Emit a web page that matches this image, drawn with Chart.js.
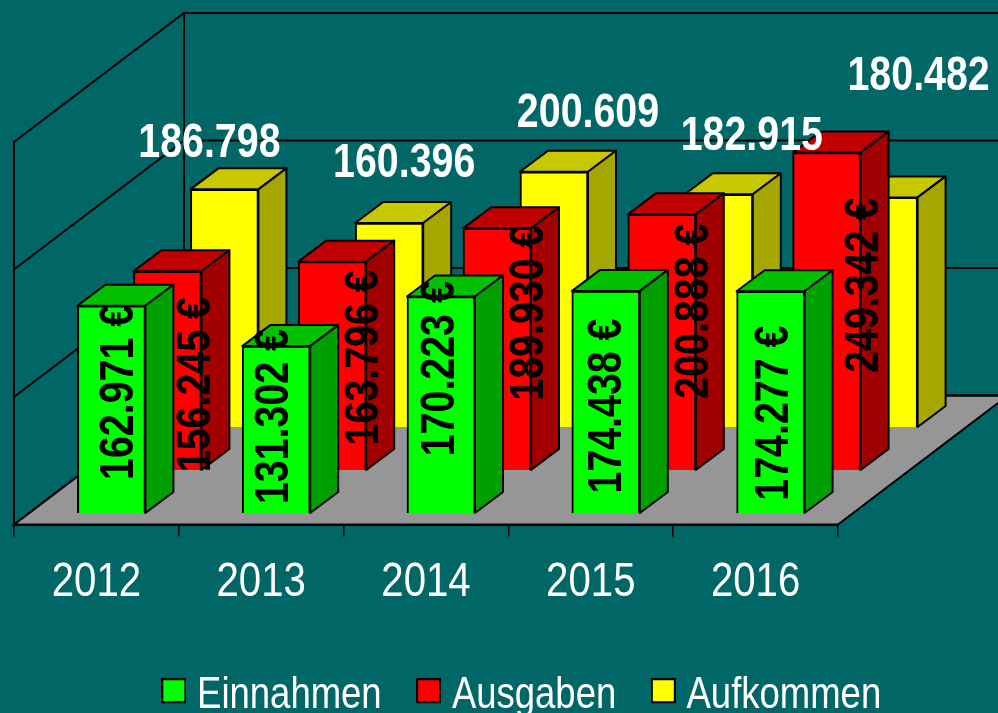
<!DOCTYPE html>
<html><head><meta charset="utf-8">
<style>html,body{margin:0;padding:0;background:#006666;overflow:hidden}#w{width:998px;height:713px;position:relative}</style>
<script src="https://cdn.jsdelivr.net/npm/chart.js@4/dist/chart.umd.min.js"></script>
</head><body><div id="w"><canvas id="c"></canvas></div>
<script>
const categories = ['2012','2013','2014','2015','2016'];
const einnahmen = [162971,131302,170223,174438,174277];
const ausgaben = [156245,163796,189930,200888,249342];
const aufkommen = [186798,160396,200609,182915,180482];
const yTicks = [0,100000,200000,300000];

// label placement, relative to the bar (px)
const greenShiftX = [8,-1,0,2,4], greenShiftY = [-17,-13,-36,4,11];
const redShiftX = [29,33,33,33,38], redShiftY = [14,-8,-36,-31,-26];
const yellowShiftX = [-15,15,34,33,35], yellowShiftY = [-46,-59,-58,-58,-121];

const FONT = '"Liberation Sans",Arial,sans-serif';
const NARROW = 0.82;
const DEPTH_X = 170, DEPTH_Y = -129, BAR_DX = 28, BAR_DY = -21;
const SERIES_OFFSET = [[15,-11],[71,-54],[128,-97]];
const FACES = [{top:'#00c000',side:'#00a000'},{top:'#c00000',side:'#a00000'},{top:'#c8c800',side:'#a6a600'}];
const fmt = v => new Intl.NumberFormat('de-DE').format(v);

// condensed lettering: all text on this canvas is set at 82% width
const canvas = document.getElementById('c');
const g2 = canvas.getContext('2d');
const rawMeasure = g2.measureText.bind(g2), rawFill = g2.fillText.bind(g2);
g2.measureText = t => { const m = rawMeasure(t); return {width:m.width*NARROW, actualBoundingBoxAscent:m.actualBoundingBoxAscent, actualBoundingBoxDescent:m.actualBoundingBoxDescent}; };
g2.fillText = (t,x,y) => rawFill(t,x,y,rawMeasure(t).width*NARROW);

function swatch(color){
  const s=document.createElement('canvas'); s.width=25; s.height=35;
  const g=s.getContext('2d'); g.fillStyle=color; g.fillRect(0,0,25,25);
  g.strokeStyle='#000'; g.lineWidth=2; g.strokeRect(1,1,23,23); return s;
}

function poly(ctx,pts,fill){
  ctx.beginPath(); pts.forEach((p,i)=>i?ctx.lineTo(p[0],p[1]):ctx.moveTo(p[0],p[1])); ctx.closePath();
  if(fill){ctx.fillStyle=fill;ctx.fill();}
  ctx.stroke();
}

const threeD = {
  id:'threeD',
  afterLayout(chart){
    const l=chart.legend; l.left+=101; l.right+=101; l.top+=15; l.bottom+=15;
  },
  beforeDatasetsDraw(chart){
    const {ctx,scales:{x,y}}=chart, a=chart.chartArea;
    ctx.save(); ctx.strokeStyle='#000'; ctx.lineWidth=2;
    const b=y.getPixelForValue(0);
    poly(ctx,[[a.left,b],[a.right,b],[a.right+DEPTH_X,b+DEPTH_Y],[a.left+DEPTH_X,b+DEPTH_Y]],'#969696');
    yTicks.forEach(v=>{
      const p=y.getPixelForValue(v);
      ctx.beginPath(); ctx.moveTo(a.left,p); ctx.lineTo(a.left+DEPTH_X,p+DEPTH_Y); ctx.lineTo(a.right+DEPTH_X,p+DEPTH_Y); ctx.stroke();
    });
    ctx.beginPath(); ctx.moveTo(a.left+DEPTH_X,y.getPixelForValue(0)+DEPTH_Y); ctx.lineTo(a.left+DEPTH_X,y.getPixelForValue(300000)+DEPTH_Y); ctx.stroke();
    ctx.restore();
  },
  beforeDatasetDraw(chart,args){
    const ctx=chart.ctx, o=SERIES_OFFSET[args.index], f=FACES[args.index];
    ctx.save(); ctx.translate(o[0],o[1]);
    ctx.strokeStyle='#000'; ctx.lineWidth=2; ctx.lineJoin='round';
    args.meta.data.forEach(el=>{
      const {x,y,base,width}=el.getProps(['x','y','base','width'],true);
      const l=x-width/2,r=x+width/2;
      poly(ctx,[[l,y],[r,y],[r+BAR_DX,y+BAR_DY],[l+BAR_DX,y+BAR_DY]],f.top);
      poly(ctx,[[r,y],[r+BAR_DX,y+BAR_DY],[r+BAR_DX,base+BAR_DY],[r,base]],f.side);
    });
  },
  afterDatasetDraw(chart){ chart.ctx.restore(); },
  afterDatasetsDraw(chart){
    const ctx=chart.ctx;
    const at=(i)=>chart.getDatasetMeta(i).data;
    ctx.save();
    ctx.textAlign='center'; ctx.textBaseline='middle';
    ctx.font='bold 48px '+FONT;
    ctx.fillStyle='#000';
    const rotated=(i,vals,sx,sy)=>{
      at(i).forEach((el,k)=>{
        const o=SERIES_OFFSET[i];
        const {x,y,base}=el.getProps(['x','y','base'],true);
        ctx.save();
        if(i===1){ctx.beginPath();ctx.rect(0,0,chart.width,base+o[1]);ctx.clip();}
        ctx.translate(x+o[0]+sx[k],(y+base)/2+o[1]+sy[k]);
        ctx.rotate(-Math.PI/2);
        ctx.fillText(fmt(vals[k])+' €',0,0);
        ctx.restore();
      });
    };
    rotated(1,ausgaben,redShiftX,redShiftY);
    rotated(0,einnahmen,greenShiftX,greenShiftY);
    ctx.fillStyle='#fff';
    at(2).forEach((el,k)=>{
      const o=SERIES_OFFSET[2];
      const {x,y}=el.getProps(['x','y'],true);
      ctx.fillText(fmt(aufkommen[k]),x+o[0]+yellowShiftX[k],y+o[1]+yellowShiftY[k]);
    });
    ctx.restore();
  }
};

const mk=(label,data,color)=>({label,data,backgroundColor:color,borderColor:'#000',borderWidth:2,barThickness:68,grouped:false,clip:false});
new Chart(canvas,{
  type:'bar',
  data:{labels:categories,datasets:[mk('Einnahmen',einnahmen,'#00ff00'),mk('Ausgaben',ausgaben,'#ff0000'),mk('Aufkommen',aufkommen,'#ffff00')]},
  plugins:[threeD,{id:'bg',beforeDraw(c){c.ctx.save();c.ctx.fillStyle='#006666';c.ctx.fillRect(0,0,c.width,c.height);c.ctx.restore();}}],
  options:{
    responsive:true,maintainAspectRatio:false,animation:false,
    layout:{padding:{left:14,right:160,top:142,bottom:0}},
    plugins:{
      tooltip:{enabled:false},
      legend:{position:'bottom',labels:{
        color:'#fff',font:{size:44.5,family:FONT},usePointStyle:true,pointStyleWidth:2,boxHeight:25,padding:46,
        generateLabels(chart){
          return Chart.defaults.plugins.legend.labels.generateLabels(chart).map((it,i)=>{it.pointStyle=swatch(chart.data.datasets[i].backgroundColor);return it;});
        }
      }}
    },
    scales:{
      x:{afterFit(s){s.height=88;},grid:{drawOnChartArea:false,drawTicks:true,tickLength:12,color:'#000',lineWidth:1.5},border:{display:true,color:'#000',width:2},
         ticks:{color:'#fff',font:{size:49,family:FONT},padding:17,maxRotation:0}},
      y:{min:0,max:300000,afterFit(s){s.width=0;},ticks:{display:false,stepSize:100000},grid:{drawOnChartArea:false,drawTicks:false},border:{display:true,color:'#000',width:2}}
    }
  }
});
</script></body></html>
